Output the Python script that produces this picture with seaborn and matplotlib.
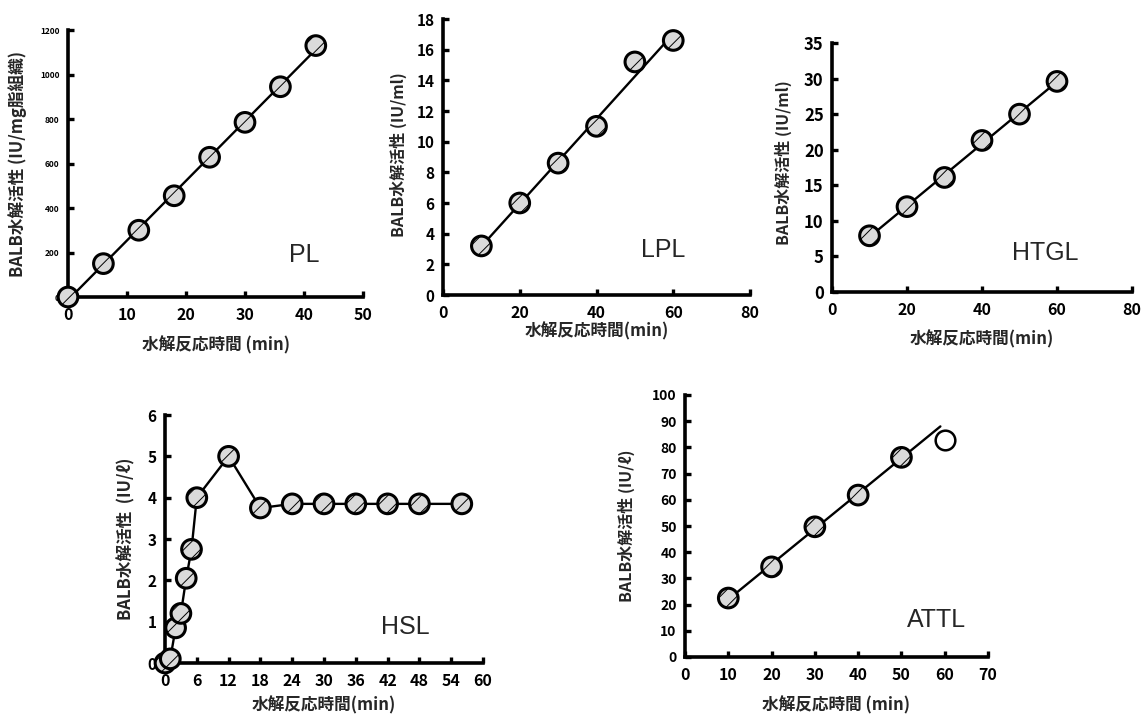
import numpy as np
import pandas as pd
import matplotlib
matplotlib.use("Agg")
import matplotlib.pyplot as plt
import seaborn as sns

# ---- data ----
pl_time = [0, 6, 12, 18, 24, 30, 36, 42]
pl_act = [0, 150, 300, 455, 628, 785, 945, 1130]

lpl_time = [10, 20, 30, 40, 50, 60]
lpl_act = [3.2, 6.0, 8.6, 11.0, 15.2, 16.6]

htgl_time = [10, 20, 30, 40, 50, 60]
htgl_act = [7.9, 12.0, 16.1, 21.3, 25.0, 29.6]

hsl_time = [0, 1, 2, 3, 4, 5, 6, 12, 18, 24, 30, 36, 42, 48, 56]
hsl_act = [0.0, 0.1, 0.85, 1.2, 2.05, 2.75, 4.0, 5.0, 3.75, 3.85, 3.85, 3.85, 3.85, 3.85, 3.85]

attl_time = [10, 20, 30, 40, 50]
attl_act = [22.5, 34.4, 49.7, 61.8, 76.2]
attl_excl_time = [60]
attl_excl_act = [82.8]
attl_fit_end = 59

xlabel_sp = "水解反応時間 (min)"
xlabel_nsp = "水解反応時間(min)"

sns.set_style("ticks")
plt.rcParams["font.family"] = ["Noto Sans CJK JP", "DejaVu Sans"]
plt.rcParams["font.weight"] = "bold"
plt.rcParams["axes.labelweight"] = "bold"
plt.rcParams["hatch.linewidth"] = 0.7
plt.rcParams["hatch.color"] = "#555555"

fig = plt.figure(figsize=(11.43, 7.15), dpi=100)
W, H = 1143, 715


def make_axes(x0, x1, ytop, ybot):
    return fig.add_axes([x0 / W, 1 - ybot / H, (x1 - x0) / W, (ybot - ytop) / H])


def points(ax, x, y):
    df = pd.DataFrame({"t": x, "v": y})
    sns.scatterplot(data=df, x="t", y="v", ax=ax, s=200, color="#dadada",
                    edgecolor="black", linewidth=2.2, zorder=4, clip_on=False,
                    legend=False)
    coll = ax.collections[-1]
    coll.set_hatch("//")


def fit_line(ax, x, y, x_end=None):
    slope, icpt = np.polyfit(x, y, 1)
    xs = np.array([min(x), max(x) if x_end is None else x_end])
    sns.lineplot(x=xs, y=slope * xs + icpt, ax=ax, color="black", lw=1.7,
                 zorder=3)


def style(ax, xlim, xticks, ylim, yticks, ylabel, xlabel, name, name_pos,
          ylab_xy, xlab_y, ytick_size=11, xtick_size=11.5, ylab_size=11.5):
    ax.set_xlim(*xlim)
    ax.set_ylim(*ylim)
    ax.set_xticks(xticks)
    ax.set_yticks(yticks)
    for s in ("top", "right"):
        ax.spines[s].set_visible(False)
    for s in ("left", "bottom"):
        ax.spines[s].set_linewidth(2.6)
        ax.spines[s].set_color("black")
    ax.tick_params(direction="in", length=4, width=2.4, colors="black")
    ax.tick_params(axis="x", labelsize=xtick_size, pad=7)
    ax.tick_params(axis="y", labelsize=ytick_size, pad=6)
    for lab in ax.get_xticklabels() + ax.get_yticklabels():
        lab.set_fontweight("bold")
    ax.set_ylabel(ylabel, fontsize=ylab_size, fontweight="bold")
    ax.set_xlabel(xlabel, fontsize=12, fontweight="bold")
    ax.yaxis.set_label_coords(*ylab_xy)
    ax.xaxis.set_label_coords(0.5, xlab_y)
    ax.text(*name_pos, name, transform=ax.transAxes, ha="center",
            va="center", fontsize=18, fontweight="medium",
            family=["Liberation Sans", "DejaVu Sans"])
    ax.patch.set_alpha(0)


# PL
ax1 = make_axes(68, 363, 30, 297)
fit_line(ax1, pl_time, pl_act)
points(ax1, pl_time, pl_act)
style(ax1, (0, 50), range(0, 51, 10), (0, 1200), range(0, 1201, 200),
      "BALB水解活性 (IU/mg脂組織)", xlabel_sp, "PL", (0.80, 0.157),
      (-0.14, 0.50), -0.146, ytick_size=6, ylab_size=12)

# LPL
ax2 = make_axes(443, 750, 19, 295)
fit_line(ax2, lpl_time, lpl_act)
points(ax2, lpl_time, lpl_act)
style(ax2, (0, 80), range(0, 81, 20), (0, 18), range(0, 19, 2),
      "BALB水解活性 (IU/ml)", xlabel_nsp, "LPL", (0.717, 0.163),
      (-0.117, 0.51), -0.10)

# HTGL
ax3 = make_axes(832, 1132, 43, 292)
fit_line(ax3, htgl_time, htgl_act)
points(ax3, htgl_time, htgl_act)
style(ax3, (0, 80), range(0, 81, 20), (0, 35), range(0, 36, 5),
      "BALB水解活性 (IU/ml)", xlabel_nsp, "HTGL", (0.71, 0.157),
      (-0.133, 0.52), -0.153, ytick_size=12)

# HSL
ax4 = make_axes(165, 483, 415, 663)
sns.lineplot(x=hsl_time, y=hsl_act, ax=ax4, color="black", lw=1.7, zorder=3)
points(ax4, hsl_time, hsl_act)
style(ax4, (0, 60), range(0, 61, 6), (0, 6), range(0, 7, 1),
      "BALB水解活性  (IU/ℓ)", xlabel_nsp, "HSL", (0.755, 0.145),
      (-0.094, 0.50), -0.133, ylab_size=12)

# ATTL
ax5 = make_axes(685, 988, 395, 657)
fit_line(ax5, attl_time, attl_act, x_end=attl_fit_end)
points(ax5, attl_time, attl_act)
sns.scatterplot(x=attl_excl_time, y=attl_excl_act, ax=ax5, s=200,
                facecolor="white", edgecolor="black", linewidth=1.8,
                zorder=4, legend=False)
style(ax5, (0, 70), range(0, 71, 10), (0, 100), range(0, 101, 10),
      "BALB水解活性 (IU/ℓ)", xlabel_sp, "ATTL", (0.83, 0.141),
      (-0.165, 0.50), -0.149, ytick_size=10)

fig.savefig("out.png", dpi=100)
